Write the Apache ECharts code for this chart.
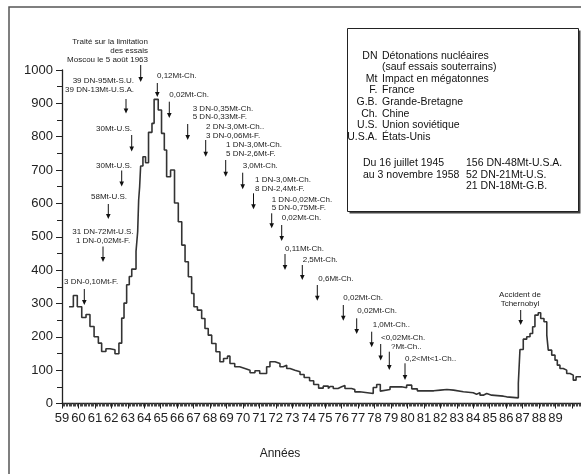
<!DOCTYPE html>
<html>
<head>
<meta charset="utf-8">
<script src="https://cdn.jsdelivr.net/npm/echarts@6/dist/echarts.min.js"></script>
<style>
  html, body { margin: 0; padding: 0; background: #fff; }
  #chart { width: 581px; height: 474px; }
</style>
</head>
<body>
<div id="chart"></div>
<script>
  // courbe en escalier : année (19xx) et niveau
  var years = [59.43, 59.69, 59.93, 60.20, 60.46, 60.70, 60.95, 61.21, 61.41, 61.67, 61.92, 62.22, 62.46, 62.63,
    62.77, 62.93, 63.09, 63.24, 63.50, 63.60, 63.66, 63.72, 63.78, 63.92, 64.08, 64.26, 64.47, 64.60, 64.85,
    65.05, 65.22, 65.36, 65.60, 65.84, 66.07, 66.28, 66.48, 66.68, 66.88, 67.02, 67.23, 67.49, 67.69, 67.89,
    68.10, 68.36, 68.60, 68.82, 69.06, 69.21, 69.50, 69.80, 70.12, 70.43, 70.73, 71.02, 71.44, 71.64, 71.95,
    72.25, 72.45, 72.66, 72.86, 73.16, 73.47, 73.72, 74.05, 74.30, 74.60, 74.88, 75.19, 75.30, 75.49, 75.78,
    76.00, 76.20, 76.60, 76.80, 77.10, 77.22, 77.92, 78.13, 78.35, 78.45, 78.94, 79.64, 79.95, 80.26, 80.60,
    81.20, 81.60, 82.00, 82.40, 82.80, 83.40, 84.00, 84.20, 84.41, 84.61, 84.82, 85.12, 85.83, 86.03, 86.74,
    86.84, 87.04, 87.25, 87.45, 87.61, 87.75, 87.95, 88.10, 88.30, 88.47, 88.56, 88.77, 88.97, 89.11, 89.27,
    89.47, 89.68, 89.88, 90.08, 90.25, 90.55];
  var levels = [290, 324, 290, 258, 267, 231, 200, 181, 156, 164, 161, 149, 181, 256,
    301, 356, 381, 403, 456, 515, 610, 650, 712, 740, 722, 813, 840, 912, 880,
    810, 760, 680, 700, 601, 545, 475, 425, 380, 330, 290, 280, 255, 225, 205,
    180, 155, 125, 135, 142, 120, 110, 105, 100, 92, 98, 90, 110, 125, 120,
    110, 115, 105, 100, 95, 87, 78, 68, 57, 46, 52, 45, 51, 45, 50,
    54, 45, 42, 35, 40, 30, 48, 57, 37, 42, 50, 47, 55, 44, 38,
    38, 40, 42, 40, 35, 32, 28, 32, 25, 30, 25, 22, 20, 17, 60,
    162, 193, 200, 210, 230, 265, 272, 255, 245, 205, 160, 145, 130, 115, 105,
    100, 90, 85, 70, 80, 80];

  var lastYearLabel = 89;

  // encadré de légende
  var abbrevs = ['DN', '', 'Mt', 'F.', 'G.B.', 'Ch.', 'U.S.', 'U.S.A.'];
  var meanings = ['Détonations nucléaires', '(sauf essais souterrains)', 'Impact en mégatonnes', 'France',
    'Grande-Bretagne', 'Chine', 'Union soviétique', 'États-Unis'];
  var periodLines = ['Du 16 juillet 1945', 'au 3 novembre 1958'];
  var totalLines = ['156 DN-48Mt-U.S.A.', '52 DN-21Mt-U.S.', '21 DN-18Mt-G.B.'];

  // annotations avec flèches (texte, position, flèche [x, haut, bas])
  var notes = [
    {lines: ['Traité sur la limitation', 'des essais', 'Moscou le 5 août 1963'], x: 148, y: 41.7, align: 'right', arrow: [140.7, 65, 82]},
    {lines: ['39 DN-95Mt-S.U.', '39 DN-13Mt-U.S.A.'], x: 134, y: 81, align: 'right', arrow: [126, 99, 113.5]},
    {lines: ['0,12Mt-Ch.'], x: 157, y: 76, align: 'left', arrow: [157.3, 83, 97]},
    {lines: ['30Mt-U.S.'], x: 132, y: 129, align: 'right', arrow: [131.7, 135, 151.5]},
    {lines: ['30Mt-U.S.'], x: 132, y: 165.5, align: 'right', arrow: [121.7, 170.5, 186.5]},
    {lines: ['58Mt-U.S.'], x: 127, y: 196.7, align: 'right', arrow: [108.3, 204, 219]},
    {lines: ['31 DN-72Mt-U.S.', '1 DN-0,02Mt-F.'], x: 103, y: 231.7, align: 'center', arrow: [103, 246.5, 262]},
    {lines: ['3 DN-0,10Mt-F.'], x: 64, y: 281.5, align: 'left', arrow: [84.3, 289, 305]},
    {lines: ['0,02Mt-Ch.'], x: 169.3, y: 95, align: 'left', arrow: [169.3, 101.7, 118]},
    {lines: ['3 DN-0,35Mt-Ch.', '5 DN-0,33Mt-F.'], x: 192.7, y: 108.3, align: 'left', arrow: [187.7, 124, 140]},
    {lines: ['2 DN-3,0Mt-Ch..', '3 DN-0,06Mt-F.'], x: 206, y: 126.7, align: 'left', arrow: [205.7, 140, 156.7]},
    {lines: ['1 DN-3,0Mt-Ch.', '5 DN-2,6Mt-F.'], x: 226, y: 145, align: 'left', arrow: [225.7, 160, 176.7]},
    {lines: ['3,0Mt-Ch.'], x: 242.7, y: 165.7, align: 'left', arrow: [242.7, 172.7, 189.3]},
    {lines: ['1 DN-3,0Mt-Ch.', '8 DN-2,4Mt-F.'], x: 255, y: 180, align: 'left', arrow: [253.5, 193.3, 209.3]},
    {lines: ['1 DN-0,02Mt-Ch.', '5 DN-0,75Mt-F.'], x: 271.7, y: 199.3, align: 'left', arrow: [271.7, 213.3, 228.3]},
    {lines: ['0,02Mt-Ch.'], x: 281.7, y: 217.7, align: 'left', arrow: [281.7, 225, 241]},
    {lines: ['0,11Mt-Ch.'], x: 285, y: 248.3, align: 'left', arrow: [285, 254, 270]},
    {lines: ['2,5Mt-Ch.'], x: 302.7, y: 260, align: 'left', arrow: [302.3, 265, 280]},
    {lines: ['0,6Mt-Ch.'], x: 318.3, y: 278.3, align: 'left', arrow: [317.3, 285, 300.7]},
    {lines: ['0,02Mt-Ch.'], x: 343.3, y: 297.7, align: 'left', arrow: [343.3, 305, 320.7]},
    {lines: ['0,02Mt-Ch.'], x: 357.3, y: 311, align: 'left', arrow: [356.7, 318.3, 334]},
    {lines: ['1,0Mt-Ch..'], x: 372.7, y: 325, align: 'left', arrow: [371.7, 331.7, 347.3]},
    {lines: ['<0,02Mt-Ch.'], x: 381, y: 337.5, align: 'left', arrow: [380.7, 344, 360.5]},
    {lines: ['?Mt-Ch..'], x: 391, y: 346.7, align: 'left', arrow: [389.3, 351.7, 370]},
    {lines: ['0,2<Mt<1-Ch..'], x: 405, y: 358.3, align: 'left', arrow: [405, 363.3, 380]},
    {lines: ['Accident de', 'Tchernobyl'], x: 520, y: 295, align: 'center', arrow: [520.7, 310, 325]}
  ];

  var FONT = '"Liberation Sans", Arial, sans-serif';

  function txt(s, x, y, align, size, color) {
    return {
      type: 'text', silent: true,
      style: {
        text: s, x: x, y: y, fill: color || '#222',
        font: size + 'px ' + FONT,
        textAlign: align, align: align,
        textVerticalAlign: 'middle', verticalAlign: 'middle'
      }
    };
  }

  function buildGraphics() {
    var g = [];
    // cadre extérieur
    g.push({type: 'rect', silent: true, shape: {x: 9, y: 7, width: 620, height: 520},
      style: {fill: 'none', stroke: '#555', lineWidth: 1.5}});
    // encadré légende (avec ombre)
    g.push({type: 'rect', silent: true, shape: {x: 349.5, y: 30.5, width: 231, height: 183},
      style: {fill: '#444'}});
    g.push({type: 'rect', silent: true, shape: {x: 347.5, y: 28.5, width: 231, height: 183},
      style: {fill: '#fff', stroke: '#222', lineWidth: 1}});
    for (var i = 0; i < meanings.length; i++) {
      var yy = 56 + i * 11.53;
      if (abbrevs[i]) g.push(txt(abbrevs[i], 377.5, yy, 'right', 10.5, '#111'));
      g.push(txt(meanings[i], 382, yy, 'left', 10.5, '#111'));
    }
    periodLines.forEach(function (s, k) { g.push(txt(s, 363, 163.5 + k * 11.5, 'left', 10.5, '#111')); });
    totalLines.forEach(function (s, k) { g.push(txt(s, 466, 163.5 + k * 11.5, 'left', 10.5, '#111')); });

    // annotations
    notes.forEach(function (n) {
      n.lines.forEach(function (s, k) { g.push(txt(s, n.x, n.y + k * 8.8, n.align, 8, '#222')); });
      var ax = n.arrow[0], a1 = n.arrow[1], a2 = n.arrow[2];
      g.push({type: 'line', silent: true, shape: {x1: ax, y1: a1, x2: ax, y2: a2 - 3},
        style: {stroke: '#111', lineWidth: 1}});
      g.push({type: 'polygon', silent: true, shape: {points: [[ax - 2.3, a2 - 5], [ax + 2.3, a2 - 5], [ax, a2]]},
        style: {fill: '#111'}});
    });

    g.push(txt('Années', 280, 454, 'center', 12, '#222'));
    return g;
  }

  var chart = echarts.init(document.getElementById('chart'));
  chart.setOption({
    animation: false,
    backgroundColor: '#fff',
    grid: {left: 62, right: 0, top: 70, bottom: 70.5, containLabel: false, outerBoundsMode: 'none'},
    xAxis: {
      type: 'value', min: 59, max: 90.55, interval: 1,
      axisLine: {lineStyle: {color: '#222', width: 1.3}},
      axisTick: {length: 5, lineStyle: {color: '#222'}},
      minorTick: {show: true, splitNumber: 12, length: 3, lineStyle: {color: '#444'}},
      axisLabel: {
        fontSize: 13, color: '#222', margin: 8, fontFamily: FONT,
        formatter: function (v) { return v <= lastYearLabel ? String(v) : ''; }
      },
      splitLine: {show: false}
    },
    yAxis: {
      type: 'value', min: 0, max: 1000, interval: 100,
      axisLine: {show: true, lineStyle: {color: '#222', width: 1.3}},
      axisTick: {show: true, length: 6, lineStyle: {color: '#222'}},
      minorTick: {show: true, splitNumber: 2, length: 5, lineStyle: {color: '#222'}},
      axisLabel: {
        fontSize: 13, color: '#222', margin: 9, fontFamily: FONT,
        formatter: function (v) { return String(v); }
      },
      splitLine: {show: false}
    },
    series: [{
      type: 'line', step: 'end', showSymbol: false, silent: true,
      data: years.map(function (y, i) { return [y, levels[i]]; }),
      lineStyle: {color: '#333', width: 1.6}
    }],
    graphic: buildGraphics()
  });
</script>
</body>
</html>
